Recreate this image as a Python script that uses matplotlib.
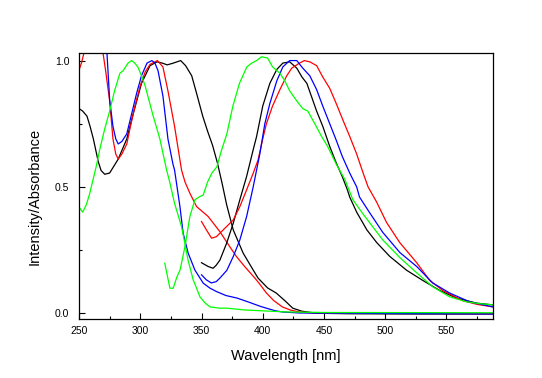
import numpy as np
import matplotlib.pyplot as plt
from matplotlib.ticker import MultipleLocator, FormatStrFormatter

plt.rcParams['font.family'] = ['Liberation Sans', 'DejaVu Sans']

# absorption spectra
black_abs_x = [250, 253, 256.5, 259, 261.7, 265.7, 268, 271, 275, 282, 289, 294, 301, 308, 313.6, 318, 322, 327,
               333, 337, 342, 346, 351, 355, 359, 363, 367, 370.5, 375.9, 384, 392.2, 396.2, 404, 411, 418, 424.5,
               432, 444, 470, 520, 588]
black_abs_y = [0.81, 0.80, 0.78, 0.74, 0.69, 0.60, 0.565, 0.55, 0.555, 0.61, 0.69, 0.785, 0.91, 0.98, 0.995, 0.99,
               0.983, 0.99, 1.0, 0.98, 0.94, 0.87, 0.78, 0.72, 0.665, 0.595, 0.51, 0.43, 0.33, 0.238, 0.171, 0.139,
               0.10, 0.08, 0.05, 0.02, 0.008, 0.0, -0.002, -0.003, -0.003]

red_abs_x = [250, 252, 254, 257, 262, 266, 269.6, 272, 275, 277.7, 280, 282, 285, 289, 292, 295.7, 300, 304, 308,
             312, 314, 318.5, 322.6, 328, 333.7, 336.5, 340.5, 346, 355.4, 365, 373, 378.6, 385.4, 393.6, 397.6,
             403, 409, 416, 423, 430, 440, 460, 588]
red_abs_y = [0.963, 0.99, 1.03, 1.07, 1.09, 1.07, 1.03, 0.95, 0.84, 0.69, 0.63, 0.61, 0.63, 0.67, 0.74, 0.82, 0.90,
             0.955, 0.985, 0.995, 1.0, 0.975, 0.88, 0.74, 0.567, 0.52, 0.475, 0.422, 0.383, 0.323, 0.264, 0.224,
             0.184, 0.139, 0.115, 0.08, 0.05, 0.025, 0.012, 0.005, 0.001, 0.0, -0.002]

blue_abs_x = [266, 270, 272.8, 275, 277.7, 280, 282, 285, 289, 293, 297, 301, 305.5, 309.5, 312, 314.5, 318.5,
              322.6, 326.7, 328, 332.4, 335, 339.1, 344.6, 351.4, 357, 362.6, 370, 379, 388, 397.6, 403, 410, 416,
              430, 588]
blue_abs_y = [1.12, 1.08, 1.03, 0.845, 0.74, 0.69, 0.67, 0.68, 0.71, 0.79, 0.87, 0.94, 0.99, 1.0, 0.99, 0.96, 0.86,
              0.69, 0.59, 0.567, 0.422, 0.317, 0.238, 0.171, 0.119, 0.099, 0.085, 0.07, 0.06, 0.045, 0.028, 0.02,
              0.01, 0.005, 0.001, -0.003]

green_abs_x = [250, 253, 256, 258.5, 261, 264, 267, 271, 275, 279, 283.4, 286, 290, 293, 295.5, 298, 301, 304, 310,
               316, 321.5, 324, 328, 333.7, 336.4, 339, 343.2, 346, 348.7, 353, 357, 365, 371, 385, 397.6, 420, 450,
               588]
green_abs_y = [0.42, 0.40, 0.43, 0.47, 0.52, 0.58, 0.65, 0.73, 0.80, 0.88, 0.95, 0.96, 0.99, 1.0, 0.99, 0.975, 0.94,
               0.90, 0.79, 0.69, 0.567, 0.52, 0.435, 0.343, 0.277, 0.211, 0.132, 0.099, 0.065, 0.04, 0.025, 0.02,
               0.02, 0.013, 0.01, 0.005, 0.003, 0.002]

# emission spectra
black_em_x = [350, 355.4, 359.5, 362, 365, 370.5, 375.9, 381.3, 386.8, 392.2, 395, 400, 405.8, 411.5, 416.4, 422,
              427.8, 432, 436, 440, 444, 449, 454.7, 460, 465, 469, 471, 476.7, 485, 493, 503.7, 517.5, 530.6,
              544.5, 558.3, 574.6, 588]
black_em_y = [0.20, 0.185, 0.178, 0.19, 0.21, 0.277, 0.356, 0.449, 0.541, 0.647, 0.70, 0.82, 0.91, 0.965, 0.99,
              0.995, 0.97, 0.935, 0.91, 0.855, 0.80, 0.74, 0.66, 0.595, 0.54, 0.49, 0.46, 0.40, 0.33, 0.28, 0.225,
              0.17, 0.13, 0.09, 0.06, 0.04, 0.033]

red_em_x = [350, 354, 358.2, 362.2, 369, 375.9, 381.3, 386.8, 392.2, 396.2, 400, 403, 408, 414, 419.6, 423.7, 430,
            434, 438.4, 444, 449, 454.7, 460, 465, 471, 476.7, 481.6, 486, 493, 501, 511.8, 525.7, 536.3, 547, 563,
            575, 588]
red_em_y = [0.363, 0.33, 0.297, 0.303, 0.336, 0.369, 0.422, 0.488, 0.554, 0.607, 0.69, 0.75, 0.82, 0.885, 0.94,
            0.97, 0.99, 1.0, 0.995, 0.98, 0.935, 0.89, 0.83, 0.77, 0.70, 0.63, 0.56, 0.50, 0.44, 0.36, 0.28, 0.20,
            0.13, 0.09, 0.05, 0.035, 0.025]

blue_em_x = [350, 354, 358, 362, 365, 370.7, 375.9, 381.3, 386.8, 392.2, 397.6, 401.7, 405.8, 411.5, 416.4, 422,
             427.8, 432.7, 438.4, 444, 449, 454.7, 460, 465, 471, 476.7, 479, 487, 498, 512, 525.7, 538.7, 552.6,
             569, 588]
blue_em_y = [0.152, 0.132, 0.12, 0.125, 0.139, 0.17, 0.224, 0.29, 0.382, 0.50, 0.63, 0.75, 0.83, 0.92, 0.975, 1.0,
             1.0, 0.97, 0.94, 0.885, 0.82, 0.75, 0.685, 0.62, 0.555, 0.50, 0.46, 0.40, 0.32, 0.24, 0.185, 0.12,
             0.08, 0.045, 0.025]

green_em_x = [320, 322.8, 324.2, 326.9, 330, 332.5, 336.5, 340.5, 344.6, 348.7, 351.4, 355, 358.5, 362.6, 366,
              370.7, 375.6, 381, 387, 391, 395, 399, 404, 408, 414, 418, 422, 427.8, 432.7, 436.8, 442.5, 448, 453,
              460, 467, 473.5, 480.8, 487, 498, 512, 525.7, 538.7, 552.6, 566.5, 577, 588]
green_em_y = [0.198, 0.132, 0.099, 0.099, 0.145, 0.171, 0.264, 0.383, 0.449, 0.462, 0.468, 0.52, 0.555, 0.58,
              0.64, 0.71, 0.82, 0.91, 0.975, 0.99, 1.0, 1.015, 1.01, 0.975, 0.95, 0.92, 0.88, 0.84, 0.81, 0.80,
              0.75, 0.70, 0.66, 0.59, 0.53, 0.45, 0.40, 0.36, 0.29, 0.22, 0.16, 0.105, 0.065, 0.045, 0.038, 0.033]

fig = plt.figure(figsize=(5.42, 3.78), dpi=100)
ax = fig.add_axes([0.1458, 0.1553, 0.7638, 0.7045])

lw = 0.9
ax.plot(black_abs_x, black_abs_y, color='#000000', lw=lw)
ax.plot(red_abs_x, red_abs_y, color='#ff0000', lw=lw)
ax.plot(blue_abs_x, blue_abs_y, color='#0000ff', lw=lw)
ax.plot(green_abs_x, green_abs_y, color='#00ff00', lw=lw)
ax.plot(black_em_x, black_em_y, color='#000000', lw=lw)
ax.plot(red_em_x, red_em_y, color='#ff0000', lw=lw)
ax.plot(blue_em_x, blue_em_y, color='#0000ff', lw=lw)
ax.plot(green_em_x, green_em_y, color='#00ff00', lw=lw)

ax.set_xlim(250, 588)
ax.set_ylim(-0.024, 1.03)
ax.xaxis.set_major_locator(MultipleLocator(50))
ax.xaxis.set_minor_locator(MultipleLocator(25))
ax.yaxis.set_major_locator(MultipleLocator(0.5))
ax.yaxis.set_minor_locator(MultipleLocator(0.25))
ax.yaxis.set_major_formatter(FormatStrFormatter('%.1f'))
ax.tick_params(which='both', direction='in', top=False, right=False, labelsize=7.5, width=0.8)
ax.tick_params(which='major', length=4)
ax.tick_params(which='minor', length=2.5)
ax.tick_params(axis='x', pad=5)
ax.tick_params(axis='y', pad=7)
for s in ax.spines.values():
    s.set_linewidth(0.9)

ax.set_xlabel('Wavelength [nm]', fontsize=10.5)
ax.set_ylabel('Intensity/Absorbance', fontsize=10.5)
ax.xaxis.set_label_coords(0.5, -0.112)
ax.yaxis.set_label_coords(-0.09, 0.46)

fig.savefig('out.png', dpi=100)
